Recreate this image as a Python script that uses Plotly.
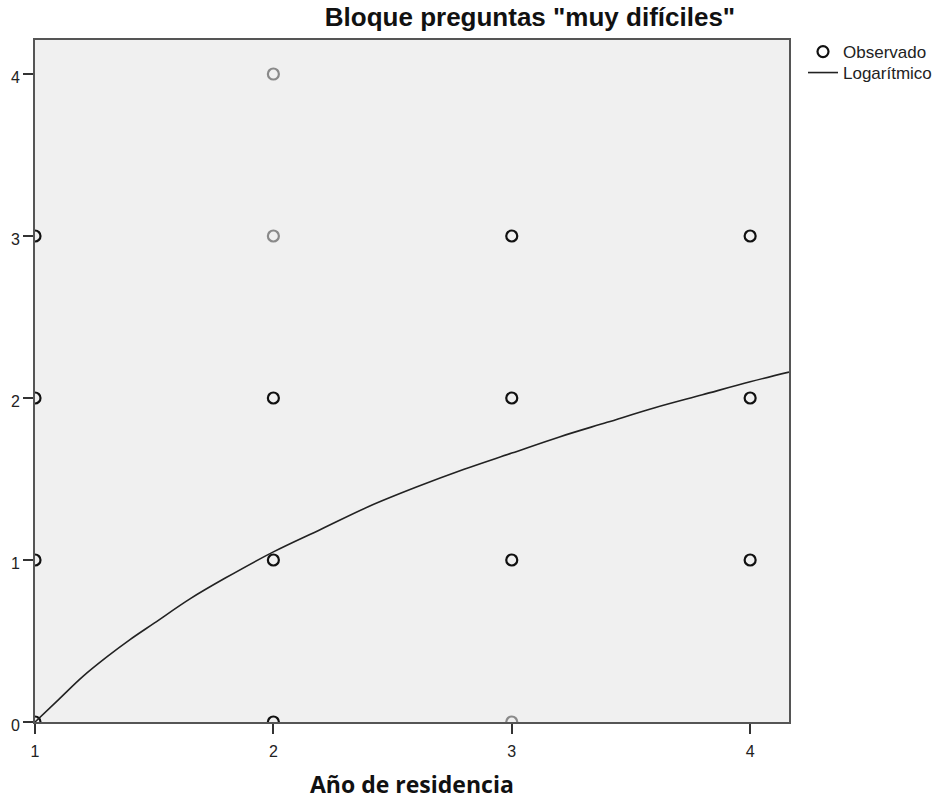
import plotly.graph_objects as go

# Observed data (x = Año de residencia, y = score, n = overlapping observations)
obs_x = [1, 1, 1, 1, 2, 2, 2, 2, 2, 3, 3, 3, 3, 4, 4, 4]
obs_y = [0, 1, 2, 3, 0, 1, 2, 3, 4, 0, 1, 2, 3, 1, 2, 3]
obs_n = [3, 3, 3, 3, 3, 3, 3, 1, 1, 1, 3, 3, 3, 2, 3, 3]

# Logarithmic fit, values
fit_x = [1.0, 1.1, 1.2, 1.3, 1.4, 1.5, 1.65, 1.8, 2.0, 2.2, 2.4, 2.6, 2.8,
         3.0, 3.2, 3.4, 3.6, 3.8, 4.0, 4.163]
fit_y = [0.0, 0.14, 0.28, 0.40, 0.51, 0.61, 0.76, 0.89, 1.05, 1.19, 1.33, 1.45, 1.56,
         1.66, 1.76, 1.85, 1.94, 2.02, 2.10, 2.16]

x_ticks = [1, 2, 3, 4]
y_ticks = [0, 1, 2, 3, 4]

def col(n):
    return "#8a8a8a" if n == 1 else "#111111"

order = sorted(range(len(obs_x)), key=lambda i: -obs_n[i])
fig = go.Figure()
fig.add_trace(go.Scatter(
    x=[obs_x[i] for i in order], y=[obs_y[i] for i in order], mode="markers",
    name="Observado", legend="legend", showlegend=True,
    marker=dict(symbol="circle-open", size=11, color=[col(obs_n[i]) for i in order],
                line=dict(width=2.2)),
))
fig.add_trace(go.Scatter(
    x=fit_x, y=fit_y, mode="lines", name="Logarítmico", line_shape="spline",
    legend="legend2", showlegend=True,
    line=dict(color="#222222", width=1.6),
))

tick_font = dict(family="Liberation Sans, Arial", size=16, color="#222222")
axis_common = dict(showline=True, mirror=True, linecolor="#555555", linewidth=2,
                   showgrid=False, zeroline=False, ticks="outside", tickcolor="#333333",
                   ticklen=10, tickwidth=2, tickfont=tick_font)
fig.update_xaxes(range=[1, 4.163], tickvals=x_ticks, ticklabelstandoff=4, **axis_common)
fig.update_yaxes(range=[0, 4.21], tickvals=y_ticks, ticklabelstandoff=0,
                 ticklabelshift=3, **axis_common)

leg_font = dict(family="Liberation Sans, Arial", size=17, color="#222222")
fig.update_layout(
    width=942, height=802, showlegend=True,
    margin=dict(l=35, r=153, t=40, b=80, autoexpand=False),
    paper_bgcolor="white", plot_bgcolor="#f0f0f0",
    title=dict(text='Bloque preguntas "muy difíciles"', x=530/942, xanchor="center",
               y=1-17/802, yanchor="middle",
               font=dict(family="Liberation Sans, Arial", size=26, color="#111111", weight="bold")),
    legend=dict(x=(803-35)/754, y=(722-52)/682, xanchor="left", yanchor="middle",
                bgcolor="rgba(0,0,0,0)", font=leg_font, itemwidth=30, visible=True),
    legend2=dict(x=(803-35)/754, y=(722-73)/682, xanchor="left", yanchor="middle",
                 bgcolor="rgba(0,0,0,0)", font=leg_font, itemwidth=30, visible=True),
    annotations=[dict(text="<b>Año de residencia</b>", xref="paper", yref="paper",
                      x=0.5, y=-(784-722)/682, xanchor="center", yanchor="middle",
                      showarrow=False,
                      font=dict(family="Open Sans", size=23, color="#111111"))],
)

fig.write_html("out.html")
